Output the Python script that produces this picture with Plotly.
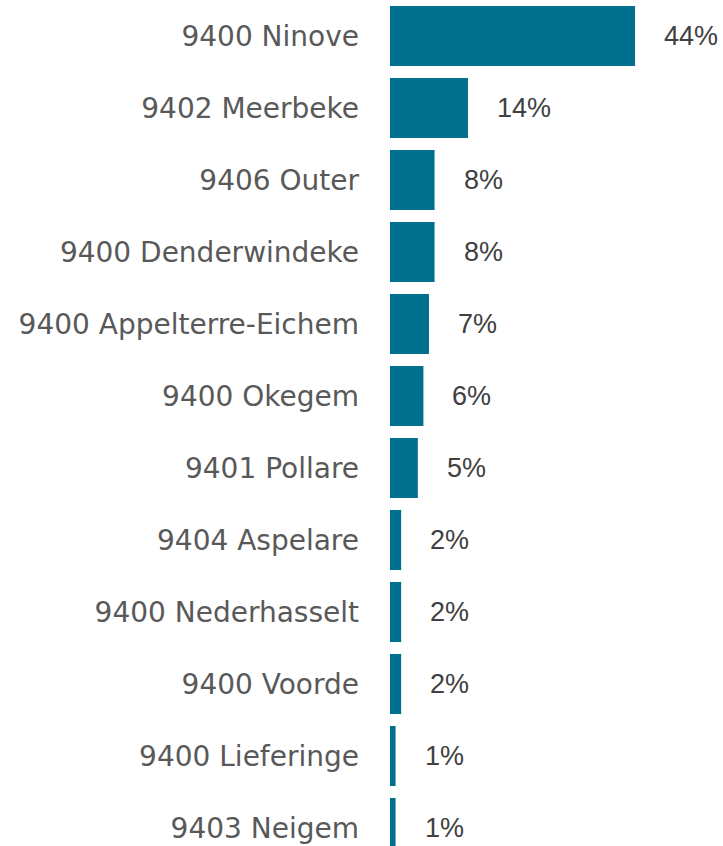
import plotly.graph_objects as go

# Share of respondents per postcode / deelgemeente
gemeenten = [
    "9400 Ninove", "9402 Meerbeke", "9406 Outer", "9400 Denderwindeke",
    "9400 Appelterre-Eichem", "9400 Okegem", "9401 Pollare", "9404 Aspelare",
    "9400 Nederhasselt", "9400 Voorde", "9400 Lieferinge", "9403 Neigem",
]
aandeel = [44, 14, 8, 8, 7, 6, 5, 2, 2, 2, 1, 1]

BAR_COLOR = "#00708f"
LABEL_COLOR = "#595959"
VALUE_COLOR = "#404040"

fig = go.Figure(
    go.Bar(
        x=aandeel,
        y=gemeenten,
        orientation="h",
        marker=dict(color=BAR_COLOR, line=dict(width=0)),
        width=0.833,
        hoverinfo="skip",
    )
)

# Percentages placed to the right of each bar
for naam, waarde in zip(gemeenten, aandeel):
    fig.add_annotation(
        x=waarde, y=naam, text=f"{waarde}%",
        xref="x", yref="y", xanchor="left", yanchor="middle",
        xshift=27, showarrow=False,
        font=dict(family="Liberation Sans, Arial, sans-serif", size=27, color=VALUE_COLOR),
    )

fig.update_layout(
    width=723, height=846,
    margin=dict(l=390, r=0, t=0, b=0),
    paper_bgcolor="white", plot_bgcolor="white",
    showlegend=False,
    bargap=0.1667,
)
fig.update_xaxes(range=[0, 59.8], visible=False, showgrid=False, zeroline=False)
fig.update_yaxes(
    categoryorder="array", categoryarray=gemeenten,
    range=[11.25, -0.5], showgrid=False, zeroline=False, showline=False,
    ticks="", ticklabelstandoff=30,
    tickfont=dict(family="DejaVu Sans, sans-serif", size=28, color=LABEL_COLOR),
)

fig.write_html("out.html")
